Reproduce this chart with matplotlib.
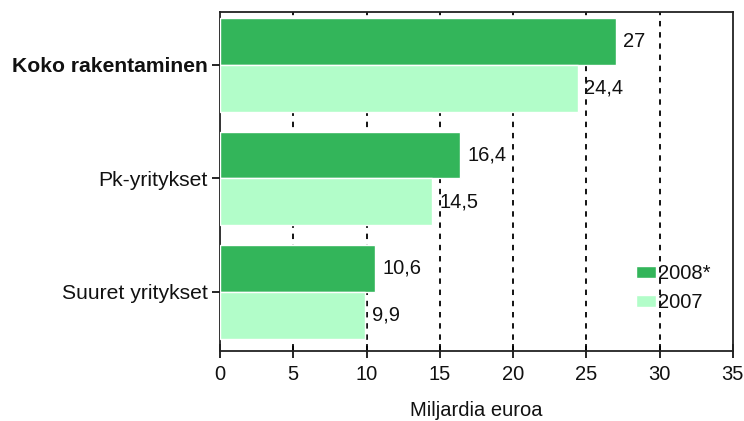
import matplotlib.pyplot as plt
import matplotlib.patches as mpatches

plt.rcParams['font.family'] = ['Liberation Sans', 'DejaVu Sans']

# Data
categories = ['Koko rakentaminen', 'Pk-yritykset', 'Suuret yritykset']
values_2008 = [27, 16.4, 10.6]
values_2007 = [24.4, 14.5, 9.9]
series_labels = ['2008*', '2007']

dark_green = '#33b55a'
light_green = '#b2fdc9'
text_color = '#111111'
fs = 14.5

fig = plt.figure(figsize=(7.44, 4.21), dpi=100)
ax = fig.add_axes([0.2957, 0.1663, 0.985 - 0.2957, 0.9715 - 0.1663])

pos = list(range(len(categories)))
h = 0.414

bars_a = ax.barh([p - h / 2 for p in pos], values_2008, height=h,
                 color=dark_green, edgecolor='white', linewidth=1, zorder=3)
bars_b = ax.barh([p + h / 2 for p in pos], values_2007, height=h,
                 color=light_green, edgecolor='white', linewidth=1, zorder=3)

# value labels with decimal comma
for bars, vals in ((bars_a, values_2008), (bars_b, values_2007)):
    for b, v in zip(bars, vals):
        txt = f'{v:g}'.replace('.', ',')
        ax.annotate(txt, (v, b.get_y() + b.get_height() / 2),
                    xytext=(5, 0), textcoords='offset points',
                    va='center', ha='left', fontsize=fs, color=text_color,
                    zorder=4)

ax.set_xlim(0, 35)
ax.set_ylim(2.52, -0.467)
ax.set_xticks(range(0, 36, 5))
ax.set_yticks(pos)
ax.set_yticklabels(categories, fontsize=15.2, color=text_color)
ax.get_yticklabels()[0].set_fontweight('bold')
ax.get_yticklabels()[0].set_fontsize(15.2)
ax.tick_params(axis='x', direction='inout', length=10, width=1.2,
               labelsize=fs, labelcolor=text_color, pad=5)
ax.tick_params(axis='y', direction='out', length=6, width=1.2, pad=3)

for x in range(5, 35, 5):
    ax.axvline(x, color='black', linestyle=(0, (3, 3.2)), linewidth=1.3,
               zorder=1)

for s in ax.spines.values():
    s.set_color('#222222')
    s.set_linewidth(1.3)

ax.set_xlabel('Miljardia euroa', fontsize=fs, color=text_color, labelpad=12)

handles = [mpatches.Patch(facecolor=dark_green, edgecolor='white'),
           mpatches.Patch(facecolor=light_green, edgecolor='white')]
ax.legend(handles, series_labels, loc='center left',
          bbox_to_anchor=(0.812, 0.185), frameon=False, fontsize=fs,
          borderpad=0, borderaxespad=0, handlelength=0.95,
          handleheight=0.55, handletextpad=0.1, labelspacing=0.5,
          labelcolor=text_color)

fig.savefig('out.png', dpi=100)
